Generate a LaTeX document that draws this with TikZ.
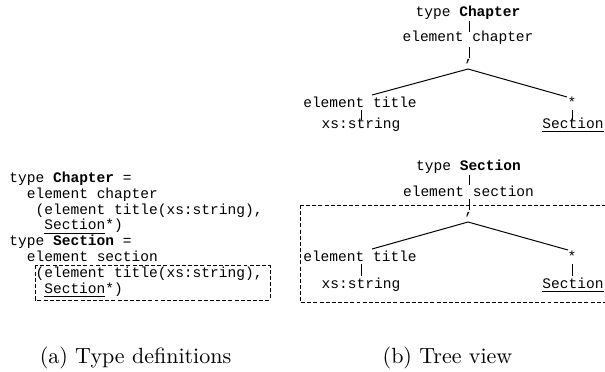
\documentclass[tikz,border=0pt]{standalone}
\usepackage{fontspec}
\newfontfamily\cour{Liberation Mono}
\usetikzlibrary{calc}
\begin{document}
\begin{tikzpicture}[x=0.4545pt,y=-0.4545pt,
  code/.style={inner sep=0pt, font=\cour\fontsize{6.61}{7.3}\selectfont},
  tn/.style={code, anchor=base},
  ln/.style={code, anchor=base west},
  captext/.style={inner sep=0pt, anchor=base, font=\fontsize{10}{12}\selectfont},
  edge/.style={line width=0.45pt},
  box/.style={line width=0.45pt, dash pattern=on 1.8pt off 1pt}]
\useasboundingbox (0,0) rectangle (605,371);

% left: type definitions
\node[ln] (l1) at (9,182.3)    {type \textbf{Chapter} =};
\node[ln] (l2) at (26.5,198.2) {element chapter};
\node[ln] (l3) at (35.2,214.0) {(element title(xs:string),};
\node[ln] (l4) at (43.9,229.9) {\underline{Section}*)};
\node[ln] (l5) at (9,245.7)    {type \textbf{Section} =};
\node[ln] (l6) at (26.5,261.6) {element section};
\node[ln] (l7) at (35.2,277.5) {(element title(xs:string),};
\node[ln] (l8) at (43.9,293.3) {\underline{Section}*)};
\draw[box] (35,265.5) rectangle (270,300);

% top tree
\node[tn] (T1) at (468,16.5) {type \textbf{Chapter}};
\node[tn] (E1) at (468,41.5) {element chapter};
\node[tn] (C1) at (469,61) {,};
\coordinate (F1) at ($(C1.base)+(-1,8)$);
\node[tn] (Ti1) at (360,107) {element title};
\node[tn] (St1) at (572,107) {*};
\node[tn] (X1) at (361,128) {xs:string};
\node[tn] (Se1) at (573,128) {\underline{Section}};
\draw[edge] ($(T1.base)+(1,4.5)$) -- ($(E1.base)+(1,-9.5)$);
\draw[edge] ($(E1.base)+(1,5.5)$) -- ($(C1.base)+(0,-3)$);
\draw[edge] (F1) -- ($(Ti1.base)+(12,-12)$);
\draw[edge] (F1) -- ($(St1.base)+(-5,-10)$);
\draw[edge] ($(Ti1.base)+(1,3)$) -- ($(X1.base)+(0,-8)$);
\draw[edge] ($(St1.base)+(0,3)$) -- ($(Se1.base)+(-1,-8)$);

% bottom tree
\draw[box] (300,205) rectangle (608,302.5);
\node[tn] (T2) at (468.5,170.5) {type \textbf{Section}};
\node[tn] (E2) at (468.5,196.5) {element section};
\node[tn] (C2) at (469,214) {,};
\coordinate (F2) at ($(C2.base)+(-1,8)$);
\node[tn] (Ti2) at (360,261.5) {element title};
\node[tn] (St2) at (572,261.5) {*};
\node[tn] (X2) at (361,288.5) {xs:string};
\node[tn] (Se2) at (573,288.5) {\underline{Section}};
\draw[edge] ($(T2.base)+(0.5,4.5)$) -- ($(E2.base)+(0.5,-11.5)$);
\draw[edge] ($(E2.base)+(0.5,2.5)$) -- ($(C2.base)+(0,-4)$);
\draw[edge] (F2) -- ($(Ti2.base)+(12,-12.5)$);
\draw[edge] (F2) -- ($(St2.base)+(-4,-11.5)$);
\draw[edge] ($(Ti2.base)+(1,2.5)$) -- ($(X2.base)+(0,-12.5)$);
\draw[edge] ($(St2.base)+(0,2.5)$) -- ($(Se2.base)+(-1,-12.5)$);

% captions
\node[captext] (ca) at (135.5,363) {(a) Type definitions};
\node[captext] (cb) at (447.5,363) {(b) Tree view};
\end{tikzpicture}
\end{document}
